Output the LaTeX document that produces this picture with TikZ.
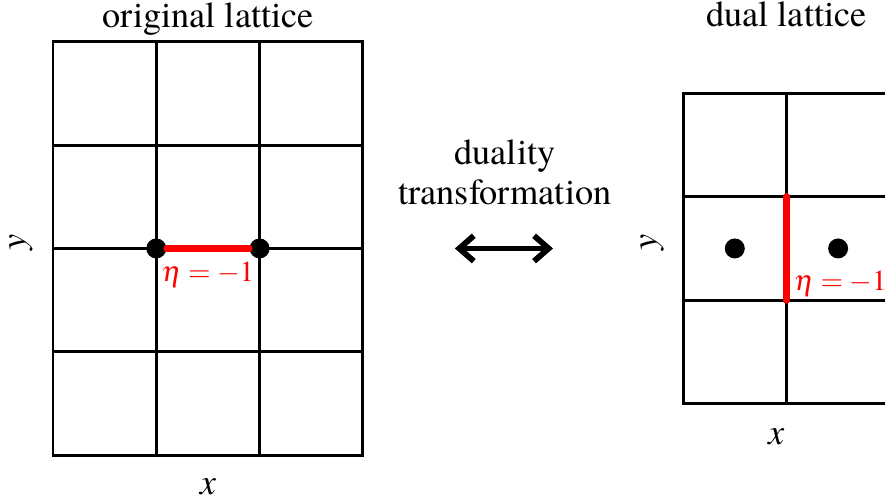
\documentclass[tikz,border=0pt]{standalone}
\usepackage{mathptmx}
\usepackage{fontspec}
\setmainfont{TeX Gyre Termes}
\usepackage{xcolor}
\usepackage{tikz}
\usetikzlibrary{arrows.meta}
\definecolor{bond}{HTML}{FF0000}
\tikzset{site/.style={circle,fill=black,inner sep=0pt,minimum size=5.5pt},
  lattice/.style={black,line width=0.8pt,line cap=rect},
  flip/.style={bond,line width=2pt,line cap=round},
  lbl/.style={font=\fontsize{10}{11}\selectfont},
  etalbl/.style={bond,font=\footnotesize},
  dualarrow/.style={{Straight Barb[length=4pt,width=7pt]}-{Straight Barb[length=4pt,width=7pt]},line width=1.6pt,line cap=round}}

\begin{document}
\begin{tikzpicture}
\useasboundingbox (-0.513,-0.465) rectangle (8.054,4.405);
% original lattice
\draw[lattice] (0,0) grid (3,4);
\node[site] (s1) at (1,2) {}; \node[site] (s2) at (2,2) {};
\draw[flip] (s1) -- (s2);
\node[etalbl,below] (e1) at (1.5,1.99) {$\eta=-1$};
\node[lbl,anchor=base] (t1) at (1.5,4.14) {original lattice};
\node[lbl,anchor=base] (x1) at (1.5,-0.378) {$x$};
\node[lbl,anchor=base,rotate=90] (y1) at (-0.27,2.06) {$y$};
% transformation
\node[lbl,align=center,anchor=south] (dt) at (4.375,2.294) {duality\\transformation};
\coordinate (al) at (3.89,2); \coordinate (ar) at (4.84,2);
\draw[dualarrow] (al) -- (ar);
% dual lattice
\begin{scope}[shift={(6.1,0.5)}]
\draw[lattice] (0,0) grid (2,3);
\coordinate (b1) at (1,1); \coordinate (b2) at (1,2);
\draw[flip] (b1) -- (b2);
\node[site] (d1) at (0.5,1.5) {}; \node[site] (d2) at (1.5,1.5) {};
\node[etalbl,anchor=north west] (e2) at (0.95,1.41) {$\eta=-1$};
\end{scope}
\node[lbl,anchor=base] (t2) at (7.1,4.15) {dual lattice};
\node[lbl,anchor=base] (x2) at (7.0,0.106) {$x$};
\node[lbl,anchor=base,rotate=90] (y2) at (5.84,2.06) {$y$};
\end{tikzpicture}
\end{document}
